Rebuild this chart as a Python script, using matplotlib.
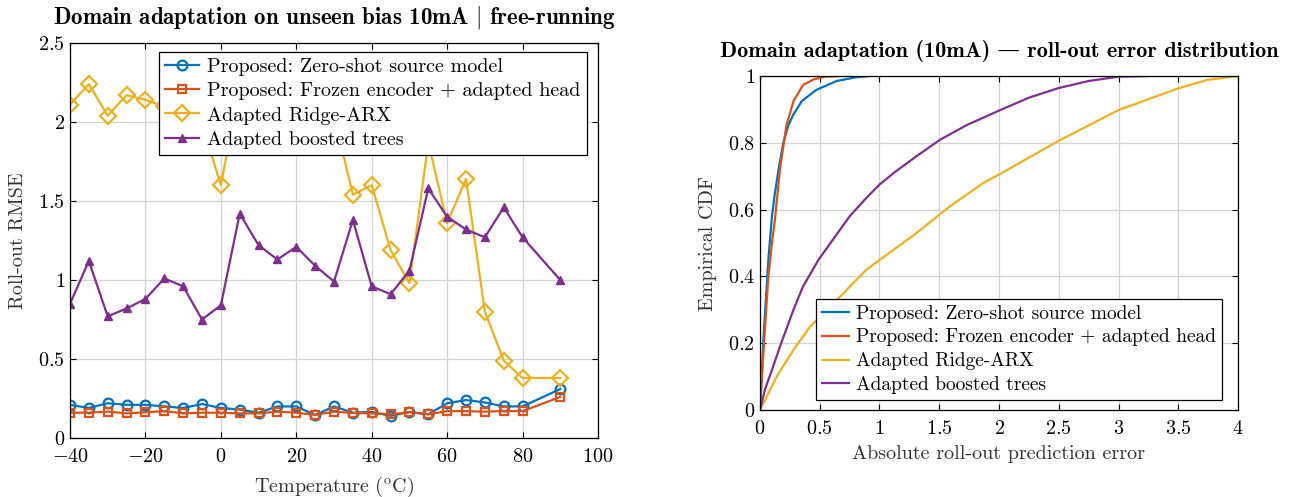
import matplotlib
matplotlib.use("Agg")
import matplotlib.pyplot as plt
from matplotlib.ticker import FuncFormatter, MultipleLocator

plt.rcParams['font.family'] = ['cmr10', 'DejaVu Serif']
plt.rcParams['mathtext.fontset'] = 'cm'
plt.rcParams['axes.formatter.use_mathtext'] = True
plt.rcParams['font.size'] = 14.5

C_BLUE = '#0072BD'
C_ORANGE = '#D95319'
C_YELLOW = '#EDB120'
C_PURPLE = '#7E2F8E'

labels = ['Proposed: Zero-shot source model',
          'Proposed: Frozen encoder + adapted head',
          'Adapted Ridge-ARX',
          'Adapted boosted trees']

# RMSE vs temperature
temps = [-40, -35, -30, -25, -20, -15, -10, -5, 0, 5, 10, 15, 20,
         25, 30, 35, 40, 45, 50, 55, 60, 65, 70, 75, 80, 90]
rmse_zeroshot = [0.21, 0.19, 0.22, 0.21, 0.21, 0.20, 0.19, 0.215, 0.19, 0.18, 0.16, 0.20, 0.20,
                 0.145, 0.20, 0.16, 0.165, 0.14, 0.165, 0.15, 0.22, 0.24, 0.225, 0.20, 0.20, 0.31]
rmse_frozen = [0.16, 0.16, 0.167, 0.156, 0.163, 0.17, 0.156, 0.16, 0.16, 0.156, 0.156, 0.167, 0.16,
               0.146, 0.167, 0.158, 0.156, 0.15, 0.163, 0.15, 0.17, 0.17, 0.167, 0.17, 0.17, 0.26]
rmse_ridge = [2.11, 2.24, 2.04, 2.17, 2.14, 2.10, 2.05, 1.99, 1.60, 2.23, 2.20, 2.25, 2.30,
              2.15, 2.04, 1.54, 1.60, 1.19, 0.98, 1.87, 1.36, 1.64, 0.80, 0.49, 0.38, 0.38]
rmse_trees = [0.85, 1.12, 0.77, 0.82, 0.88, 1.01, 0.96, 0.75, 0.84, 1.42, 1.22, 1.13, 1.21,
              1.09, 0.99, 1.38, 0.96, 0.91, 1.06, 1.58, 1.40, 1.32, 1.27, 1.46, 1.27, 1.00]

# empirical CDF of absolute roll-out error
err_zeroshot = [0, 0.03, 0.07, 0.10, 0.125, 0.16, 0.195, 0.24, 0.28, 0.35, 0.47, 0.64, 0.80, 0.92]
cdf_zeroshot = [0, 0.22, 0.45, 0.58, 0.65, 0.73, 0.80, 0.855, 0.885, 0.925, 0.958, 0.985, 0.996, 1.0]
err_frozen = [0, 0.03, 0.07, 0.10, 0.125, 0.167, 0.22, 0.28, 0.36, 0.45, 0.55, 0.68]
cdf_frozen = [0, 0.18, 0.40, 0.50, 0.57, 0.72, 0.85, 0.925, 0.973, 0.99, 0.998, 1.0]
err_ridge = [0, 0.14, 0.28, 0.42, 0.655, 0.89, 1.1, 1.31, 1.59, 1.87, 2.0, 2.5, 3.0, 3.5, 3.74, 4.0]
cdf_ridge = [0, 0.10, 0.18, 0.25, 0.334, 0.42, 0.475, 0.53, 0.61, 0.68, 0.705, 0.806, 0.898, 0.963, 0.988, 1.0]
err_trees = [0, 0.04, 0.10, 0.167, 0.28, 0.36, 0.49, 0.67, 0.75, 0.89, 1.0, 1.12, 1.31, 1.51, 1.73,
             2.01, 2.25, 2.5, 2.75, 3.0, 3.25]
cdf_trees = [0, 0.06, 0.12, 0.19, 0.30, 0.37, 0.45, 0.54, 0.58, 0.635, 0.675, 0.71, 0.76, 0.81, 0.853,
             0.898, 0.935, 0.964, 0.985, 0.998, 1.0]


def fmt(v, pos):
    return '$%g$' % v


def style_axes(ax):
    ax.grid(True, color='#d3d3d3', linewidth=0.9)
    ax.set_axisbelow(True)
    ax.tick_params(direction='in', top=True, right=True, length=4, width=0.8, labelsize=14.5)
    ax.tick_params(axis='x', pad=7.5)
    ax.xaxis.set_major_formatter(FuncFormatter(fmt))
    ax.yaxis.set_major_formatter(FuncFormatter(fmt))
    for s in ax.spines.values():
        s.set_linewidth(0.9)


fig = plt.figure(figsize=(12.91, 4.97), dpi=100)
ax1 = fig.add_axes([70 / 1291, 59 / 497, 528 / 1291, 395 / 497])
ax2 = fig.add_axes([760 / 1291, 87 / 497, 478 / 1291, 334 / 497])

lw = 1.6
ax1.plot(temps, rmse_zeroshot, color=C_BLUE, lw=lw, marker='o', ms=7, mfc='none', mew=1.6, label=labels[0])
ax1.plot(temps, rmse_frozen, color=C_ORANGE, lw=lw, marker='s', ms=5.5, mfc='none', mew=1.6, label=labels[1])
ax1.plot(temps, rmse_ridge, color=C_YELLOW, lw=lw, marker='D', ms=8, mfc='none', mew=1.6, label=labels[2])
ax1.plot(temps, rmse_trees, color=C_PURPLE, lw=lw, marker='^', ms=6, label=labels[3])
ax1.set_xlim(-40, 100)
ax1.set_ylim(0, 2.5)
ax1.xaxis.set_major_locator(MultipleLocator(20))
ax1.yaxis.set_major_locator(MultipleLocator(0.5))
style_axes(ax1)
ax1.set_xlabel(r'Temperature ($^{\mathrm{o}}$C)', color='#333333', labelpad=6)
ax1.set_ylabel('Roll-out RMSE', color='#333333', labelpad=8)
ax1.set_title('Domain adaptation on unseen bias 10mA $|$ free-running',
              fontfamily=['cmb10', 'DejaVu Serif'], fontsize=16.5, pad=14)
leg1 = ax1.legend(loc='upper right', bbox_to_anchor=(0.979, 0.977), fancybox=False, edgecolor='black',
                  framealpha=1, borderpad=0.3, labelspacing=0.3, handlelength=1.7, handletextpad=0.4,
                  borderaxespad=0, fontsize=14.5)
leg1.get_frame().set_linewidth(0.9)

ax2.plot(err_zeroshot, cdf_zeroshot, color=C_BLUE, lw=lw, label=labels[0])
ax2.plot(err_frozen, cdf_frozen, color=C_ORANGE, lw=lw, label=labels[1])
ax2.plot(err_ridge, cdf_ridge, color=C_YELLOW, lw=lw, label=labels[2])
ax2.plot(err_trees, cdf_trees, color=C_PURPLE, lw=lw, label=labels[3])
ax2.set_xlim(0, 4)
ax2.set_ylim(0, 1)
ax2.xaxis.set_major_locator(MultipleLocator(0.5))
ax2.yaxis.set_major_locator(MultipleLocator(0.2))
style_axes(ax2)
ax2.set_xlabel('Absolute roll-out prediction error', color='#333333', labelpad=5)
ax2.set_ylabel('Empirical CDF', color='#333333', labelpad=8)
ax2.set_title('Domain adaptation (10mA) \u2014 roll-out error distribution',
              fontfamily=['cmb10', 'DejaVu Serif'], fontsize=16, pad=14)
leg2 = ax2.legend(loc='lower right', bbox_to_anchor=(0.966, 0.03), fancybox=False, edgecolor='black',
                  framealpha=1, borderpad=0.3, labelspacing=0.3, handlelength=1.4, handletextpad=0.35,
                  borderaxespad=0, fontsize=14)
leg2.get_frame().set_linewidth(0.9)

fig.savefig('out.png', dpi=100)
